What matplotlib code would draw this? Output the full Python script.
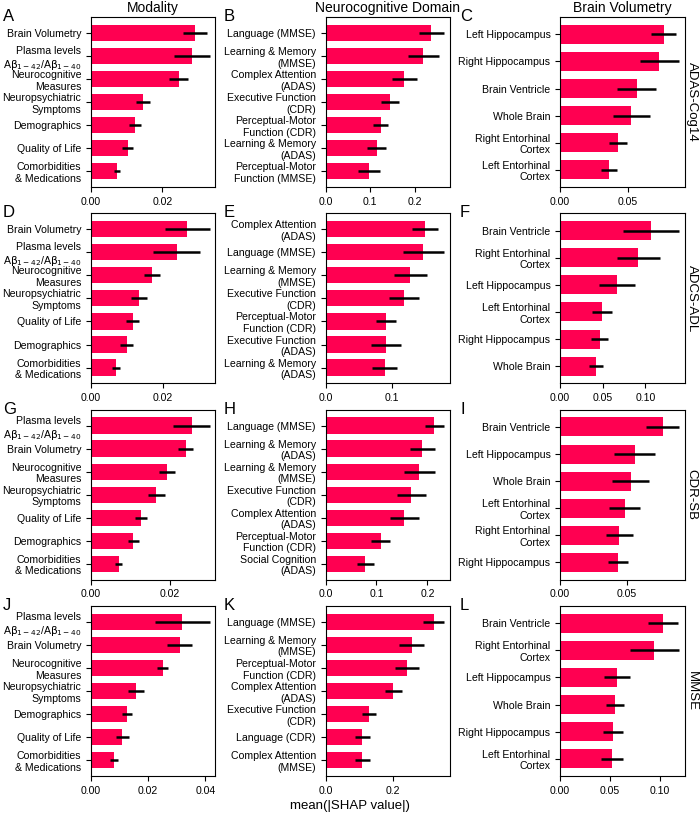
import matplotlib
matplotlib.use('Agg')
import matplotlib.pyplot as plt

plt.rcParams['font.family'] = ['Liberation Sans', 'DejaVu Sans']
plt.rcParams['mathtext.fontset'] = 'dejavusans'

plasma = 'Plasma levels\nA$\\mathrm{\\beta_{1-42}}$/A$\\mathrm{\\beta_{1-40}}$'

col_titles = ['Modality', 'Neurocognitive Domain', 'Brain Volumetry']
row_titles = ['ADAS-Cog14', 'ADCS-ADL', 'CDR-SB', 'MMSE']
letters = ['A', 'B', 'C', 'D', 'E', 'F', 'G', 'H', 'I', 'J', 'K', 'L']

# ADAS-Cog14
labels_A = ['Brain Volumetry', plasma, 'Neurocognitive\nMeasures', 'Neuropsychiatric\nSymptoms',
            'Demographics', 'Quality of Life', 'Comorbidities\n& Medications']
shap_A = [0.0292, 0.0282, 0.0246, 0.0146, 0.0123, 0.0103, 0.0073]
err_A = [0.0033, 0.0050, 0.0027, 0.0019, 0.0017, 0.0016, 0.0009]

labels_B = ['Language (MMSE)', 'Learning & Memory\n(MMSE)', 'Complex Attention\n(ADAS)',
            'Executive Function\n(CDR)', 'Perceptual-Motor\nFunction (CDR)', 'Learning & Memory\n(ADAS)',
            'Perceptual-Motor\nFunction (MMSE)']
shap_B = [0.2375, 0.2195, 0.177, 0.145, 0.1236, 0.1146, 0.0975]
err_B = [0.0285, 0.0348, 0.028, 0.0195, 0.0173, 0.0207, 0.0243]

labels_C = ['Left Hippocampus', 'Right Hippocampus', 'Brain Ventricle', 'Whole Brain',
            'Right Entorhinal\nCortex', 'Left Entorhinal\nCortex']
shap_C = [0.0764, 0.0734, 0.0567, 0.0527, 0.0429, 0.0362]
err_C = [0.0089, 0.0142, 0.0145, 0.0135, 0.0066, 0.0060]

# ADCS-ADL
labels_D = ['Brain Volumetry', plasma, 'Neurocognitive\nMeasures', 'Neuropsychiatric\nSymptoms',
            'Quality of Life', 'Demographics', 'Comorbidities\n& Medications']
shap_D = [0.0269, 0.0239, 0.0171, 0.0134, 0.0116, 0.0100, 0.0071]
err_D = [0.0062, 0.0066, 0.0022, 0.0023, 0.0017, 0.0018, 0.0011]

labels_E = ['Complex Attention\n(ADAS)', 'Language (MMSE)', 'Learning & Memory\n(MMSE)',
            'Executive Function\n(CDR)', 'Perceptual-Motor\nFunction (CDR)', 'Executive Function\n(ADAS)',
            'Learning & Memory\n(ADAS)']
shap_E = [0.1508, 0.1482, 0.1284, 0.1188, 0.0919, 0.0914, 0.0893]
err_E = [0.0193, 0.0312, 0.0249, 0.0221, 0.0150, 0.0223, 0.0195]

labels_F = ['Brain Ventricle', 'Right Entorhinal\nCortex', 'Left Hippocampus',
            'Left Entorhinal\nCortex', 'Right Hippocampus', 'Whole Brain']
shap_F = [0.1066, 0.0918, 0.0668, 0.0492, 0.0465, 0.0426]
err_F = [0.0324, 0.0250, 0.0207, 0.0119, 0.0102, 0.0082]

# CDR-SB
labels_G = [plasma, 'Brain Volumetry', 'Neurocognitive\nMeasures', 'Neuropsychiatric\nSymptoms',
            'Quality of Life', 'Demographics', 'Comorbidities\n& Medications']
shap_G = [0.0256, 0.0241, 0.0194, 0.0166, 0.0127, 0.0108, 0.0071]
err_G = [0.0046, 0.0020, 0.0020, 0.0022, 0.0016, 0.0013, 0.0009]

labels_H = ['Language (MMSE)', 'Learning & Memory\n(ADAS)', 'Learning & Memory\n(MMSE)',
            'Executive Function\n(CDR)', 'Complex Attention\n(ADAS)', 'Perceptual-Motor\nFunction (CDR)',
            'Social Cognition\n(ADAS)']
shap_H = [0.2138, 0.1900, 0.1842, 0.1684, 0.1546, 0.1079, 0.0776]
err_H = [0.0190, 0.0247, 0.0306, 0.0283, 0.0280, 0.0188, 0.0168]

labels_I = ['Brain Ventricle', 'Left Hippocampus', 'Whole Brain', 'Left Entorhinal\nCortex',
            'Right Entorhinal\nCortex', 'Right Hippocampus']
shap_I = [0.0768, 0.0558, 0.0528, 0.0483, 0.0445, 0.0435]
err_I = [0.0121, 0.0151, 0.0139, 0.0114, 0.0100, 0.0075]

# MMSE
labels_J = [plasma, 'Brain Volumetry', 'Neurocognitive\nMeasures', 'Neuropsychiatric\nSymptoms',
            'Demographics', 'Quality of Life', 'Comorbidities\n& Medications']
shap_J = [0.0320, 0.0310, 0.0251, 0.0156, 0.0127, 0.0110, 0.0080]
err_J = [0.0095, 0.0045, 0.0020, 0.0028, 0.0018, 0.0023, 0.0015]

labels_K = ['Language (MMSE)', 'Learning & Memory\n(MMSE)', 'Perceptual-Motor\nFunction (CDR)',
            'Complex Attention\n(ADAS)', 'Executive Function\n(CDR)', 'Language (CDR)',
            'Complex Attention\n(MMSE)']
shap_K = [0.322, 0.257, 0.242, 0.202, 0.129, 0.110, 0.110]
err_K = [0.0315, 0.0380, 0.0355, 0.0245, 0.0200, 0.0225, 0.0230]

labels_L = ['Brain Ventricle', 'Right Entorhinal\nCortex', 'Left Hippocampus', 'Whole Brain',
            'Right Hippocampus', 'Left Entorhinal\nCortex']
shap_L = [0.1030, 0.0943, 0.0570, 0.0547, 0.0530, 0.0520]
err_L = [0.0150, 0.0242, 0.0127, 0.0088, 0.0098, 0.0110]

panels = [
    (labels_A, shap_A, err_A), (labels_B, shap_B, err_B), (labels_C, shap_C, err_C),
    (labels_D, shap_D, err_D), (labels_E, shap_E, err_E), (labels_F, shap_F, err_F),
    (labels_G, shap_G, err_G), (labels_H, shap_H, err_H), (labels_I, shap_I, err_I),
    (labels_J, shap_J, err_J), (labels_K, shap_K, err_K), (labels_L, shap_L, err_L),
]

bar_color = '#ff0051'

fig, axes = plt.subplots(4, 3, figsize=(7.0, 8.14), dpi=100)
fig.subplots_adjust(left=0.13, right=0.978, top=0.979, bottom=0.0467, wspace=0.884, hspace=0.155)

for i, (labels, vals, errs) in enumerate(panels):
    r, c = divmod(i, 3)
    ax = axes[r, c]
    pos = list(range(len(vals)))
    ax.barh(pos, vals, xerr=errs, height=0.7, color=bar_color,
            error_kw=dict(ecolor='black', elinewidth=1.8, capsize=0))
    ax.set_yticks(pos)
    ax.set_yticklabels(labels, fontsize=7.6)
    ax.invert_yaxis()
    ax.tick_params(axis='x', labelsize=7.6)
    if r == 0:
        ax.set_title(col_titles[c], fontsize=10, pad=4)
    if c == 2:
        ax.text(1.008, 0.5, row_titles[r], transform=ax.transAxes, rotation=270,
                va='center', ha='left', fontsize=9.5)
    p = ax.get_position()
    letter_x = [3 / 700, 224 / 700, 460 / 700][c]
    fig.text(letter_x, p.y1 - 4 / 814, letters[i], fontsize=12, va='baseline', ha='left')

# shared x label, centred on the whole figure
fig.text(0.5, 0.003, 'mean(|SHAP value|)', fontsize=9.5, ha='center', va='bottom')

fig.savefig('out.png', dpi=100)
